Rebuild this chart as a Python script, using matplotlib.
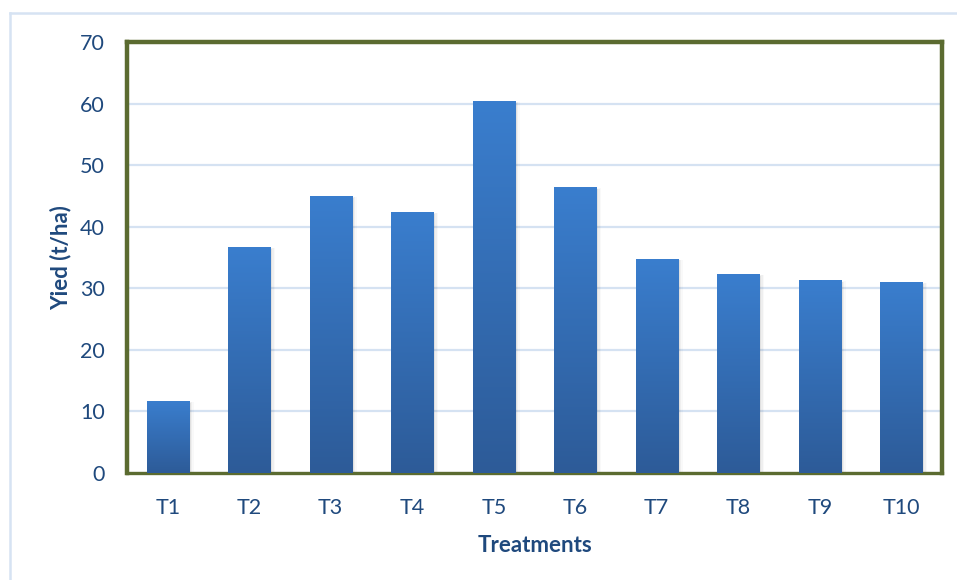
import numpy as np
import matplotlib as mpl
mpl.use('Agg')
import matplotlib.pyplot as plt
from matplotlib.colors import LinearSegmentedColormap
from matplotlib.lines import Line2D
from matplotlib.patches import Rectangle

treatments = ['T1', 'T2', 'T3', 'T4', 'T5', 'T6', 'T7', 'T8', 'T9', 'T10']
yield_t_ha = [11.7, 36.7, 45.0, 42.4, 60.4, 46.4, 34.8, 32.3, 31.3, 31.0]

text_col = '#1F497D'
frame_col = '#5B6B30'
plt.rcParams['font.family'] = ['Lato', 'DejaVu Sans']

W, H = 957, 580
fig = plt.figure(figsize=(W / 100, H / 100), dpi=100)
ax = fig.add_axes([127 / W, (H - 473) / H, 815 / W, 431 / H])

x = np.arange(len(treatments))
bw = 0.52
cmap = LinearSegmentedColormap.from_list('bar', ['#2D5B98', '#3A7ECE'])
grad = np.linspace(0, 1, 256).reshape(-1, 1)

for xi, v in zip(x, yield_t_ha):
    # soft shadow
    for k, a in enumerate([0.06, 0.04, 0.025]):
        off = 0.02 + k * 0.02
        ax.add_patch(Rectangle((xi - bw / 2 + off, 0), bw, v - 0.3 + off * 2,
                               facecolor='#000000', alpha=a, edgecolor='none', zorder=2))
    im = ax.imshow(grad, extent=(xi - bw / 2, xi + bw / 2, 0, v), origin='lower',
                   cmap=cmap, aspect='auto', zorder=3)
    r = Rectangle((xi - bw / 2, 0), bw, v, facecolor='none', edgecolor='none')
    ax.add_patch(r)
    im.set_clip_path(r)

ax.set_xlim(-0.5, len(treatments) - 0.5)
ax.set_ylim(0, 70)
ax.set_yticks(range(0, 71, 10))
ax.set_xticks(x)
ax.set_xticklabels(treatments)
ax.grid(axis='y', color='#D5E2F2', linewidth=1.6, zorder=1)
ax.set_axisbelow(True)
ax.tick_params(length=0, labelsize=15.5, colors=text_col)
ax.tick_params(axis='y', pad=16)
ax.tick_params(axis='x', pad=18)

for s in ['left', 'top', 'right']:
    ax.spines[s].set_color(frame_col)
    ax.spines[s].set_linewidth(3.2)
ax.spines['bottom'].set_color(frame_col)
ax.spines['bottom'].set_linewidth(2.4)

ax.set_xlabel('Treatments', fontsize=16, fontweight='bold', color=text_col, labelpad=12)
ax.set_ylabel('Yied (t/ha)', fontsize=16, fontweight='bold', color=text_col, labelpad=6)

# outer chart border (left and top visible)
fig.add_artist(Line2D([10 / W, 10 / W], [0, 1 - 13 / H], color='#D6E3F3', linewidth=1.8))
fig.add_artist(Line2D([10 / W, 1], [1 - 13 / H, 1 - 13 / H], color='#D6E3F3', linewidth=1.8))

fig.savefig('out.png', dpi=100)
